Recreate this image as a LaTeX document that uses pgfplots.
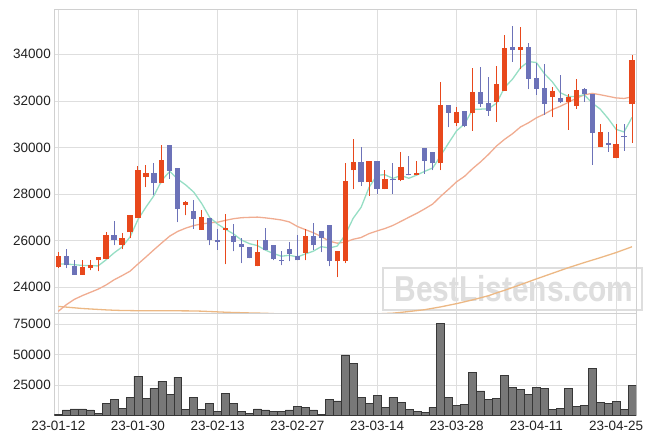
\documentclass[border=0pt]{standalone}
\usepackage{fontspec}
\setmainfont{Liberation Sans}
\usepackage{graphicx}
\usepackage{pgfplots}
\pgfplotsset{compat=1.18}
\usepackage{pgfplotstable}

\definecolor{upc}{RGB}{232,72,28}
\definecolor{dnc}{RGB}{108,114,184}
\definecolor{maf}{RGB}{150,222,196}
\definecolor{mam}{RGB}{240,172,145}
\definecolor{mal}{RGB}{236,184,132}
\definecolor{gridc}{RGB}{222,222,222}
\definecolor{bordc}{RGB}{208,208,208}
\definecolor{volc}{RGB}{120,120,120}
\definecolor{voledge}{RGB}{55,55,55}
\definecolor{txtc}{RGB}{34,34,34}
\definecolor{wmc}{RGB}{222,222,222}

\pgfplotstableread{
i o h l c
0 24854 25512 24830 25355
3 24540 25155 24540 24854
4 24812 25183 24726 24969
5 25155 25312 24683 25283
6 25226 26369 25226 26255
8 25826 26326 25640 26126
9 26355 27112 26112 27112
10 26955 29213 26955 29041
11 28713 29256 28298 28913
13 28456 30099 28456 29470
16 27512 27712 27084 27670
18 26470 27327 26470 27027
21 26470 27141 24997 26555
25 24897 26041 24897 25512
31 25469 26498 25155 26212
35 25112 25569 24440 25569
36 25112 29327 25040 28570
37 29013 30356 28213 29384
39 28498 29413 27926 29413
41 28213 29013 28213 28641
43 28584 29813 28541 29156
45 28813 29413 28813 28913
48 29313 32828 29027 31828
50 31071 31757 30928 31528
52 31468 33428 30713 32395
55 31966 33498 31107 32738
56 32442 34829 32442 34257
58 34200 35158 33357 34300
62 32185 32585 31300 32428
64 31971 32285 30756 32157
65 31800 32957 31657 32471
68 30042 31000 30042 30685
70 29542 31000 29542 30142
72 31857 33971 30213 33757
}\upT

\pgfplotstableread{
i o h l c
1 25355 25655 24826 24940
2 24926 25183 24540 24540
7 26255 26855 25797 26012
12 28913 29327 27941 28456
14 30113 30113 28656 28999
15 29113 29113 26798 27355
17 27284 27755 26512 26927
19 26970 26970 25797 26012
20 26041 26498 25612 25926
22 26212 26698 25540 25926
23 25869 26112 25040 25712
24 25740 25740 25240 25240
26 26041 26541 25583 25583
27 25812 25812 25155 25197
28 25183 25540 24940 25140
29 25655 25926 25112 25440
30 25355 26241 25155 25155
32 26212 26755 25612 25797
33 26427 26427 25512 26126
34 26670 26670 24897 25140
38 29384 30013 28356 28498
40 29413 29413 28013 28213
42 28641 29327 28013 28584
44 28870 29642 28798 28798
46 29984 29984 28870 29441
47 29813 29813 29027 29313
49 31828 31828 30871 31500
51 31571 31571 30871 30928
53 32385 33471 31742 31885
54 31914 33028 31356 31585
57 34300 35215 33686 34200
59 34300 34472 32500 32957
60 32971 33614 32257 32514
61 32543 33571 31400 31885
63 32114 33100 31900 31971
66 32500 32543 31971 32300
67 32300 32300 29256 30642
69 30185 30685 29827 30127
71 30499 31000 29856 30442
}\dnT

\pgfplotstableread{
i m5 m20 m120
0 25000 22970 23180
1 25000 23250 23150
2 24970 23480 23120
3 24940 23640 23090
4 24932 23780 23070
5 24917 23920 23050
6 25180 24100 23030
7 25475 24320 23015
8 25729 24500 23005
9 26158 24690 23000
10 26909 25000 22995
11 27441 25300 22990
12 27930 25610 22990
13 28598 25910 22990
14 28976 26200 22990
15 28639 26400 22990
16 28390 26540 22988
17 28084 26650 22985
18 27596 26720 22975
19 26998 26766 22960
20 26712 26794 22945
21 26489 26875 22930
22 26289 26944 22918
23 26026 26987 22910
24 25872 27001 22900
25 25789 27012 22893
26 25595 26979 22885
27 25449 26938 22870
28 25334 26889 22850
29 25374 26805 22830
30 25303 26611 22810
31 25429 26476 22800
32 25549 26343 22790
33 25746 26176 22785
34 25686 25983 22785
35 25769 25893 22790
36 26240 25938 22800
37 26958 26061 22815
38 27432 26135 22830
39 28287 26305 22845
40 28816 26419 22860
41 28830 26523 22875
42 28670 26656 22890
43 28801 26829 22925
44 28678 27006 22960
45 28818 27176 23000
46 28978 27369 23040
47 29124 27575 23100
48 29659 27910 23160
49 30199 28213 23230
50 30722 28531 23300
51 31019 28767 23380
52 31634 29096 23460
53 31645 29384 23550
54 31662 29707 23640
55 31904 30065 23760
56 32570 30349 23870
57 32933 30590 23990
58 33416 30880 24110
59 33690 31058 24235
60 33646 31273 24360
61 33171 31435 24480
62 32817 31627 24600
63 32351 31768 24720
64 32191 31936 24840
65 32182 32114 24950
66 32265 32257 25060
67 31908 32323 25165
68 31651 32266 25270
69 31245 32197 25380
70 30779 32128 25490
71 30668 32104 25615
72 31291 32172 25740
}\maT

\pgfplotstableread{
i v
0 1000
1 4400
2 5225
3 5225
4 4400
5 1650
6 9900
7 13200
8 5775
9 14850
10 32175
11 14025
12 22275
13 28050
14 17325
15 31350
16 4950
17 14850
18 4950
19 9900
20 3300
21 18150
22 9900
23 3300
24 1650
25 5225
26 4400
27 3300
28 3300
29 4400
30 7425
31 6600
32 4400
33 825
34 13200
35 11825
36 49775
37 42900
38 14850
39 9900
40 16500
41 6600
42 14850
43 10725
44 4950
45 3300
46 2475
47 6600
48 75900
49 14850
50 8250
51 9075
52 35475
53 20075
54 13200
55 14025
56 33000
57 23100
58 21450
59 17325
60 23100
61 22275
62 4950
63 5775
64 22275
65 7425
66 8250
67 38775
68 10725
69 9900
70 11550
71 4950
72 24750
}\volT

\pgfplotsset{
  panel/.style={
    scale only axis, width=581.7pt, anchor=south west,
    xmin=-0.5, xmax=72.5,
    xtick={0,10,...,70},
    grid=major, grid style={draw=gridc, line width=0.7pt},
    axis line style={draw=bordc, line width=0.8pt},
    major tick length=0pt, tick style={draw=none},
    /pgf/number format/assume math mode=true,
    ticklabel style={font=\fontsize{13.5}{16}\selectfont, text=txtc},
    scaled y ticks=false,
    yticklabel style={/pgf/number format/fixed, /pgf/number format/1000 sep={}},
  },
  wick/.style={only marks, mark=*, mark size=0pt, mark options={draw=none, fill=none},
    error bars/.cd, y dir=plus, y explicit, error mark=none,
    error bar style={line width=1pt, draw=#1}},
  body/.style={only marks, mark=*, mark size=0pt, mark options={draw=none, fill=none},
    error bars/.cd, y dir=plus, y explicit, error mark=none,
    error bar style={line width=5.2pt, draw=#1}},
}

\begin{document}
\begin{tikzpicture}
\useasboundingbox (0,0) rectangle (656pt,444pt);
% watermark
\draw[draw=gridc, line width=2pt, fill=white] (382.7pt,134pt) rectangle (641.7pt,176.3pt);
\node[text=wmc, font=\fontsize{36}{36}\bfseries\selectfont, inner sep=0pt, anchor=base] at (514pt,142.3pt) {\scalebox{0.83}[1]{BestListens.com}};

\begin{axis}[panel, at={(54.3pt,130.7pt)}, height=304pt,
  ymin=22884, ymax=35931, ytick={24000,26000,28000,30000,32000,34000},
  xticklabels={}]
  \addplot[mal, line width=1.3pt, mark=none] table[x=i, y=m120] \maT;
  \addplot[mam, line width=1.3pt, mark=none] table[x=i, y=m20] \maT;
  \addplot[maf, line width=1.3pt, mark=none] table[x=i, y=m5] \maT;
  \addplot[wick=upc] table[x=i, y=l, y error plus expr=\thisrow{h}-\thisrow{l}] \upT;
  \addplot[body=upc] table[x=i, y=o, y error plus expr=\thisrow{c}-\thisrow{o}] \upT;
  \addplot[wick=dnc] table[x=i, y=l, y error plus expr=\thisrow{h}-\thisrow{l}] \dnT;
  \addplot[body=dnc] table[x=i, y=c, y error plus expr=\thisrow{o}-\thisrow{c}] \dnT;
\end{axis}

\begin{axis}[panel, at={(54.3pt,28.7pt)}, height=102pt,
  ymin=0, ymax=84000, ytick={25000,50000,75000},
  xticklabels={23-01-12,23-01-30,23-02-13,23-02-27,23-03-14,23-03-28,23-04-11,23-04-25},
  xticklabel style={yshift=-2pt}]
  \addplot[ybar, bar width=7.97pt, fill=volc, draw=voledge, line width=0.6pt] table[x=i, y=v] \volT;
\end{axis}
\end{tikzpicture}
\end{document}
